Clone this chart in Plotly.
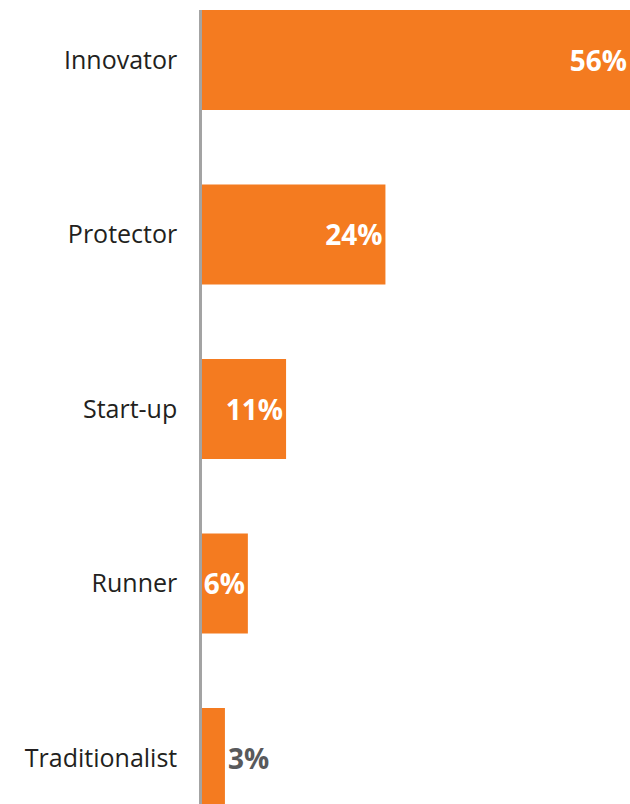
import plotly.graph_objects as go

# Share of respondents by profile
categories = ["Innovator", "Protector", "Start-up", "Runner", "Traditionalist"]
values = [56, 24, 11, 6, 3]
value_labels = ["56%", "24%", "11%", "6%", "3%"]

ORANGE = "#f47b20"
FONT = "Open Sans"

# Labels sit inside the bar end, except for bars too short to hold them
label_positions = ["inside" if v >= 6 else "outside" for v in values]

fig = go.Figure(
    go.Bar(
        x=values,
        y=categories,
        orientation="h",
        marker=dict(color=ORANGE, line=dict(width=0)),
        text=value_labels,
        textposition=label_positions,
        textangle=0,
        insidetextanchor="end",
        insidetextfont=dict(family=FONT, size=28, color="white", weight="bold"),
        outsidetextfont=dict(family=FONT, size=28, color="#58595b", weight="bold"),
        cliponaxis=True,
        constraintext="none",
        hoverinfo="skip",
    )
)

fig.update_layout(
    width=630,
    height=804,
    margin=dict(l=202, r=0, t=10, b=0),
    paper_bgcolor="white",
    plot_bgcolor="white",
    bargap=0.427,
    showlegend=False,
    font=dict(family=FONT, color="#231f20"),
    uniformtext=dict(minsize=28, mode="show"),
)

fig.update_xaxes(
    range=[0, 56],
    visible=False,
    showgrid=False,
    zeroline=False,
)

fig.update_yaxes(
    categoryorder="array",
    categoryarray=categories,
    range=[4.264, -0.2865],
    showgrid=False,
    zeroline=False,
    showline=True,
    linecolor="#a3a3a3",
    linewidth=2.5,
    ticks="",
    ticklabelstandoff=17,
    tickfont=dict(family=FONT, size=25, color="#231f20"),
)

fig.write_html("out.html")
